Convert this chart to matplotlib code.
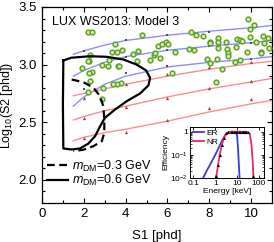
import matplotlib
matplotlib.use("Agg")
import matplotlib.pyplot as plt

plt.rcParams['font.family'] = ['Liberation Sans', 'DejaVu Sans']
plt.rcParams['mathtext.fontset'] = 'custom'
plt.rcParams['mathtext.rm'] = 'Liberation Sans'
plt.rcParams['mathtext.it'] = 'Liberation Sans:italic'

# ---- band lines (S1 vs log10 S2) ----
line_s1 = [1.5, 2, 3, 4, 6, 8, 10, 11]
er_hi = [3.09, 3.12, 3.17, 3.21, 3.255, 3.29, 3.32, 3.34]
er_mid = [2.90, 2.95, 3.02, 3.07, 3.125, 3.16, 3.19, 3.21]
er_lo = [2.64, 2.72, 2.83, 2.90, 2.98, 3.02, 3.05, 3.07]
nr_hi = [2.73, 2.75, 2.79, 2.83, 2.90, 2.96, 3.01, 3.03]
nr_mid = [2.52, 2.55, 2.60, 2.64, 2.72, 2.79, 2.85, 2.88]
nr_lo = [2.34, 2.37, 2.41, 2.44, 2.51, 2.59, 2.66, 2.69]

# points on the bands
mark_s1 = [2, 4, 6, 8, 10]
er_hi_pts = [3.12, 3.21, 3.255, 3.285, 3.32]
er_mid_pts = [2.96, 3.07, 3.125, 3.16, 3.19]
er_lo_pts = [2.79, 2.93, 2.99, 3.02, 3.05]
nr_hi_pts = [2.71, 2.83, 2.915, 2.98, 3.025]
nr_mid_pts = [2.54, 2.63, 2.71, 2.80, 2.86]
nr_lo_pts = [2.365, 2.42, 2.52, 2.62, 2.70]

# ---- observed events ----
ev_s1 = [2.22, 2.38, 4.80, 3.49, 3.33, 3.60, 3.81, 4.58, 2.30, 2.26, 2.20, 3.22,
         4.37, 4.53, 5.17, 2.87, 3.17, 3.65, 3.70, 1.91, 2.38, 2.26, 2.30, 3.77,
         3.60, 3.38, 2.93, 2.19, 2.86, 9.84, 10.14, 9.95, 7.11, 7.35, 7.72, 10.56,
         10.83, 9.95, 8.04, 8.04, 8.44, 8.44, 8.80, 9.31, 9.47, 9.58, 10.24, 10.64,
         5.56, 5.76, 5.93, 6.01, 5.65, 6.36, 7.03, 7.29, 8.44, 8.84, 9.27, 8.88,
         8.88, 9.79, 10.45, 10.48, 10.86, 8.36, 7.91, 8.04, 9.23, 9.47, 8.60, 6.24,
         8.31, 5.37, 5.41]
ev_log_s2 = [3.285, 3.285, 3.253, 3.18, 3.108, 3.11, 3.13, 3.117, 3.08, 3.03, 3.035, 3.036,
             3.094, 3.03, 3.036, 2.998, 2.987, 2.99, 2.985, 2.973, 2.938, 2.93, 2.857, 2.84,
             2.835, 2.835, 2.80, 2.76, 2.706, 3.40, 3.348, 3.305, 3.28, 3.26, 3.247, 3.247,
             3.227, 3.24, 3.20, 3.19, 3.227, 3.195, 3.195, 3.224, 3.218, 3.203, 3.198, 3.19,
             3.166, 3.183, 3.195, 3.175, 3.06, 3.108, 3.137, 3.131, 3.146, 3.137, 3.155, 3.097,
             3.073, 3.11, 3.11, 3.097, 3.146, 3.05, 3.053, 3.016, 3.025, 3.042, 2.958, 2.93,
             2.848, 3.088, 3.10]

# ---- contours ----
c06_s1 = [1.02, 1.4, 2.30, 3.09, 3.89, 4.53, 4.98, 5.17, 5.09, 4.69, 4.05, 3.49,
          3.01, 2.78, 2.54, 2.22, 1.82, 1.42, 1.02, 1.00, 1.02]
c06_s2 = [3.036, 3.06, 3.073, 3.068, 3.045, 3.0, 2.95, 2.886, 2.82, 2.75, 2.683, 2.61,
          2.539, 2.466, 2.38, 2.316, 2.273, 2.264, 2.273, 2.65, 3.036]
c03_s1 = [1.42, 1.98, 2.46, 2.78, 2.93, 2.98, 2.98, 2.86, 2.46, 1.98, 1.50]
c03_s2 = [2.871, 2.848, 2.80, 2.726, 2.64, 2.524, 2.409, 2.336, 2.293, 2.262, 2.25]

# ---- inset: efficiencies ----
er_e = [0.28, 0.4, 0.6, 1.0, 1.5, 2.0, 3.0, 4.0, 5.0, 7.0, 9.0, 10.0, 11.0, 12.0, 13.0]
er_eff = [0.01, 0.02, 0.04, 0.1, 0.22, 0.4, 0.75, 0.93, 1.0, 1.0, 0.97, 0.7, 0.2, 0.04, 0.01]
nr_e = [1.1, 1.3, 1.6, 2.0, 2.5, 3.2, 4.0, 6.0, 10.0, 20.0, 30.0, 38.0, 45.0, 52.0, 56.0]
nr_eff = [0.01, 0.03, 0.1, 0.27, 0.55, 0.85, 0.97, 1.0, 1.0, 1.0, 0.98, 0.8, 0.3, 0.05, 0.01]
nr_data_e = [1.1, 1.3, 1.6, 2.0, 2.5, 3.2, 4.0, 5.0, 6.0, 7.0, 8.0, 9.0, 10.0, 12.0,
             14.0, 16.0, 18.0, 20.0, 23.0, 26.0, 30.0, 52.0]
nr_data_eff = [0.012, 0.035, 0.1, 0.28, 0.55, 0.85, 0.96, 1.0, 1.0, 1.0, 1.0, 1.0, 1.0, 1.0,
               1.0, 1.0, 1.0, 1.0, 1.0, 1.0, 0.98, 0.012]

fig = plt.figure(figsize=(2.74, 2.42), dpi=100)
ax = fig.add_axes([42 / 274, 39 / 242, 230 / 274, 196 / 242])

blue_line = '#8c8cff'
pink_line = '#ff8c8c'
for ys in [er_hi, er_mid, er_lo]:
    ax.plot(line_s1, ys, color=blue_line, lw=1.0, zorder=2)
for ys in [nr_hi, nr_mid, nr_lo]:
    ax.plot(line_s1, ys, color=pink_line, lw=1.0, zorder=2)
for ys in [er_hi_pts, er_mid_pts, er_lo_pts]:
    ax.plot(mark_s1, ys, 's', color='#4a4a7a', ms=2.0, mew=0, zorder=3)
for ys in [nr_hi_pts, nr_mid_pts, nr_lo_pts]:
    ax.plot(mark_s1, ys, '^', color='#a04848', ms=2.4, mew=0, zorder=3)

ax.plot(ev_s1, ev_log_s2, 'o', ms=3.4, mfc='#d8eeb8', mec='#5da423', mew=1.1,
        ls='none', zorder=4)

ax.plot(c03_s1, c03_s2, color='black', lw=1.6, ls=(0, (3.5, 2)), zorder=5,
        label=r'$m_{\rm DM}$=0.3 GeV')
ax.plot(c06_s1, c06_s2, color='black', lw=1.6, zorder=5,
        label=r'$m_{\rm DM}$=0.6 GeV')

ax.set_xlim(0, 11)
ax.set_ylim(1.8, 3.5)
ax.set_xticks([0, 2, 4, 6, 8, 10])
ax.set_xticks([1, 3, 5, 7, 9], minor=True)
ax.set_yticks([2.0, 2.5, 3.0, 3.5])
ax.set_yticks([1.9, 2.1, 2.2, 2.3, 2.4, 2.6, 2.7, 2.8, 2.9, 3.1, 3.2, 3.3, 3.4], minor=True)
ax.tick_params(which='both', direction='in', top=True, right=True, labelsize=9.5, width=0.8)
ax.tick_params(which='major', length=3.5)
ax.tick_params(which='minor', length=2)
for s in ax.spines.values():
    s.set_linewidth(0.9)
ax.set_xlabel('S1 [phd]', fontsize=9.5, labelpad=7)
ax.set_ylabel('Log$_{10}$(S2 [phd])', fontsize=9, labelpad=3)
ax.text(0.045, 0.955, 'LUX WS2013: Model 3', transform=ax.transAxes,
        fontsize=9, va='top', ha='left')
ax.legend(loc='lower left', bbox_to_anchor=(0.02, 0.075), frameon=False, fontsize=9,
          handlelength=1.7, handletextpad=0.3, labelspacing=-0.05, borderpad=0.0,
          borderaxespad=0.0)

# inset
ins = fig.add_axes([190 / 274, 64 / 242, 74 / 274, 51 / 242])
ins.plot(er_e, er_eff, color='#3a3ae0', lw=1.3, label='ER')
ins.plot(nr_e, nr_eff, color='#ee2a5a', lw=1.3, label='NR')
ins.plot(nr_data_e, nr_data_eff, '^', color='black', ms=2.2, mew=0)
ins.set_xscale('log')
ins.set_yscale('log')
ins.set_xlim(0.07, 170)
ins.set_ylim(0.01, 1.6)
ins.set_xticks([0.1, 1, 10, 100])
ins.set_xticklabels(['0.1', '1', '10', '100'])
ins.set_yticks([0.01, 0.1, 1])
ins.set_yticklabels(['10$^{-2}$', '10$^{-1}$', '1'])
ins.tick_params(which='both', direction='in', top=True, right=True, labelsize=6, pad=1.5)
ins.tick_params(which='major', length=2.5, width=0.6)
ins.tick_params(which='minor', length=1.2, width=0.5)
for s in ins.spines.values():
    s.set_linewidth(0.7)
ins.set_xlabel('Energy [keV]', fontsize=6, labelpad=0.5)
ins.set_ylabel('Efficiency', fontsize=6, labelpad=0.5)
ins.legend(loc='upper left', frameon=False, fontsize=6, handlelength=1.4,
           handletextpad=0.3, labelspacing=0.05, borderpad=0.1, borderaxespad=0.2)

fig.savefig('out.png', dpi=100)
